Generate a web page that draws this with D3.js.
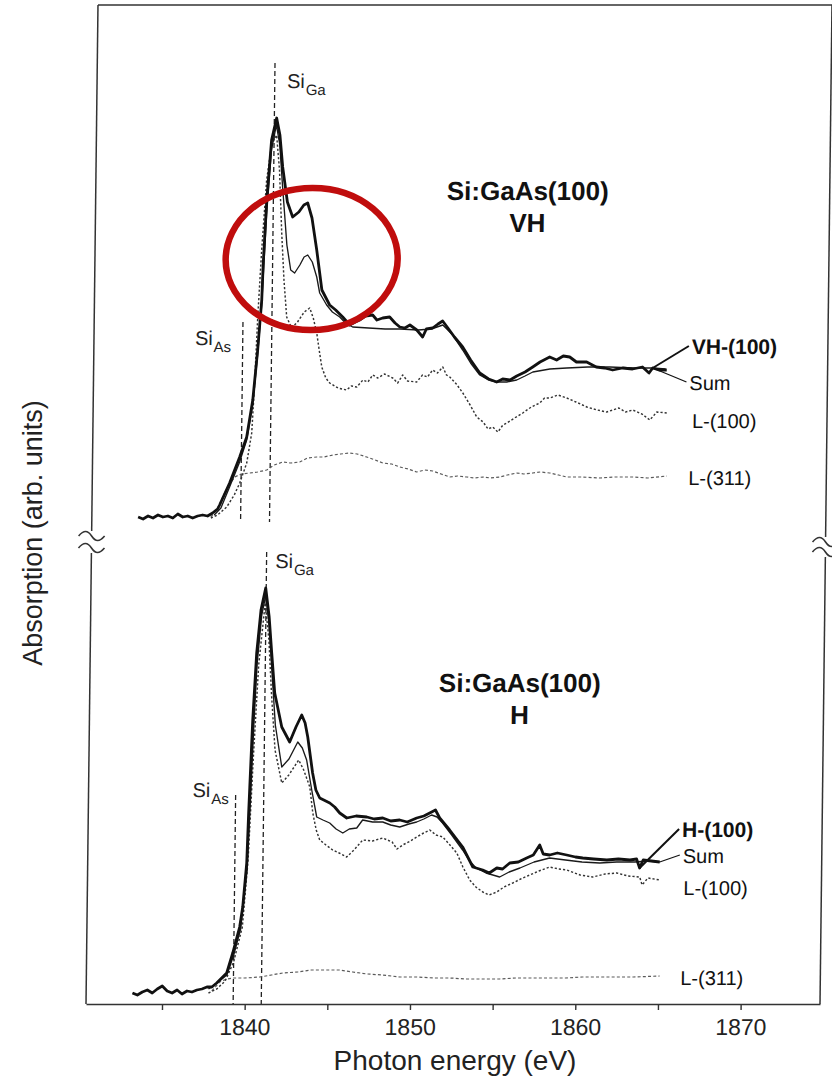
<!DOCTYPE html>
<html>
<head>
<meta charset="utf-8">
<script src="https://cdn.jsdelivr.net/npm/d3@7"></script>
<style>
  body { margin: 0; background: #fff; }
  svg { display: block; }
</style>
</head>
<body>
<svg id="chart" width="832" height="1080"></svg>
<script>
// ---- Si K-edge absorption spectra, Si:GaAs(100), energies in eV, absorption in arb. units ----

// Upper panel (VH)
const vhMeasured = [[1833.2,0.03],[1833.5,0.01],[1833.8,0.04],[1834.1,0.02],[1834.4,0.05],[1834.7,0.03],[1835.0,0.04],[1835.3,0.02],[1835.6,0.06],[1835.9,0.03],[1836.2,0.04],[1836.5,0.02],[1836.8,0.04],[1837.1,0.05],[1837.4,0.04],[1837.7,0.07],[1838.0,0.11],[1838.12,0.15],[1838.71,0.37],[1839.3,0.63],[1839.71,0.83],[1840.05,1.2],[1840.31,1.7],[1840.52,2.2],[1840.58,2.55],[1840.75,3.2],[1841.0,3.8],[1841.29,4.02],[1841.5,3.85],[1841.69,3.53],[1842.0,3.18],[1842.33,3.03],[1842.7,3.08],[1843.0,3.15],[1843.23,3.17],[1843.5,3.02],[1843.81,2.7],[1844.15,2.3],[1844.63,2.15],[1845.0,2.1],[1845.43,2.03],[1845.86,1.95],[1846.2,1.98],[1846.46,2.0],[1846.8,2.04],[1847.24,2.05],[1847.5,2.0],[1847.85,2.02],[1848.27,2.03],[1848.6,1.97],[1848.89,1.93],[1849.2,1.92],[1849.5,1.95],[1849.92,1.9],[1850.28,1.83],[1850.5,1.91],[1850.88,1.92],[1851.2,1.96],[1851.48,1.99],[1851.8,1.92],[1852.2,1.83],[1852.71,1.73],[1853.2,1.6],[1853.76,1.47],[1854.3,1.41],[1854.79,1.38],[1855.15,1.41],[1855.6,1.4],[1856.0,1.44],[1856.5,1.48],[1856.96,1.53],[1857.4,1.58],[1857.98,1.63],[1858.4,1.6],[1858.8,1.64],[1859.19,1.63],[1859.6,1.58],[1860.22,1.58],[1860.8,1.53],[1861.3,1.52],[1861.8,1.5],[1862.4,1.52],[1863.0,1.51],[1863.6,1.53],[1864.0,1.47],[1864.22,1.52],[1864.6,1.5],[1865.07,1.5]];
const vhSum = [[1837.8,0.05],[1838.2,0.12],[1838.71,0.33],[1839.3,0.58],[1839.71,0.8],[1840.05,1.15],[1840.31,1.65],[1840.52,2.15],[1840.75,3.05],[1841.0,3.7],[1841.28,3.95],[1841.5,3.75],[1841.69,3.35],[1842.0,2.75],[1842.25,2.5],[1842.49,2.47],[1842.8,2.55],[1843.05,2.63],[1843.27,2.65],[1843.55,2.58],[1843.83,2.43],[1844.02,2.27],[1844.45,2.15],[1844.8,2.08],[1845.25,2.03],[1845.6,1.97],[1846.04,1.93],[1847.0,1.92],[1848.0,1.91],[1848.89,1.91],[1850.0,1.9],[1850.8,1.91],[1851.49,1.95],[1852.1,1.85],[1852.71,1.7],[1853.2,1.57],[1853.76,1.45],[1854.3,1.4],[1854.79,1.38],[1855.4,1.38],[1856.0,1.4],[1856.5,1.44],[1856.97,1.48],[1858.0,1.51],[1859.02,1.52],[1860.3,1.53],[1861.62,1.53],[1863.0,1.52],[1864.22,1.52],[1865.0,1.51]];
const vhL100 = [[1837.6,0.02],[1838.0,0.05],[1838.55,0.13],[1839.0,0.25],[1839.32,0.37],[1839.73,0.57],[1840.01,0.87],[1840.15,1.37],[1840.29,2.03],[1840.48,2.7],[1840.73,3.4],[1841.0,3.75],[1841.3,3.85],[1841.5,3.5],[1841.68,2.87],[1841.85,2.4],[1842.04,2.03],[1842.35,1.92],[1842.7,1.98],[1843.1,2.08],[1843.43,2.12],[1843.65,2.02],[1843.87,1.87],[1844.05,1.68],[1844.2,1.53],[1844.45,1.42],[1844.69,1.37],[1845.2,1.32],[1845.72,1.3],[1846.0,1.34],[1846.33,1.33],[1846.7,1.4],[1847.0,1.38],[1847.29,1.45],[1847.6,1.42],[1848.0,1.46],[1848.5,1.42],[1848.8,1.37],[1849.1,1.45],[1849.4,1.39],[1849.95,1.38],[1850.3,1.45],[1850.6,1.43],[1850.91,1.5],[1851.2,1.47],[1851.52,1.53],[1851.75,1.45],[1851.95,1.43],[1852.35,1.36],[1852.75,1.27],[1853.2,1.15],[1853.61,1.03],[1854.0,0.98],[1854.3,0.91],[1854.58,0.93],[1854.9,0.88],[1855.2,0.95],[1855.43,0.97],[1855.9,1.02],[1856.39,1.07],[1856.9,1.13],[1857.41,1.17],[1857.7,1.22],[1858.01,1.22],[1858.5,1.25],[1859.04,1.22],[1859.6,1.18],[1860.26,1.13],[1860.9,1.1],[1861.47,1.08],[1862.2,1.12],[1862.6,1.08],[1863.04,1.1],[1863.6,1.06],[1864.08,1.0],[1864.5,1.08],[1865.1,1.07]];
const vhL311 = [[1837.6,0.03],[1837.95,0.1],[1838.5,0.3],[1839.01,0.43],[1839.4,0.46],[1839.92,0.47],[1840.4,0.48],[1840.94,0.5],[1841.4,0.55],[1841.91,0.58],[1842.4,0.57],[1842.93,0.58],[1843.4,0.62],[1843.96,0.63],[1844.4,0.63],[1844.93,0.65],[1845.4,0.66],[1845.95,0.67],[1846.4,0.66],[1846.98,0.63],[1847.5,0.6],[1847.96,0.57],[1848.5,0.56],[1848.99,0.53],[1849.5,0.51],[1850.02,0.48],[1850.5,0.5],[1850.99,0.49],[1851.5,0.46],[1852.02,0.43],[1852.5,0.44],[1853.05,0.43],[1853.5,0.42],[1854.02,0.43],[1854.5,0.42],[1855.04,0.43],[1855.5,0.45],[1856.07,0.47],[1856.5,0.46],[1857.04,0.47],[1857.5,0.48],[1858.06,0.47],[1858.6,0.45],[1859.09,0.43],[1860.0,0.43],[1861.09,0.42],[1862.0,0.43],[1863.09,0.43],[1864.0,0.42],[1865.15,0.44]];

// Lower panel (H)
const hMeasured = [[1833.2,0.02],[1833.5,0.0],[1833.8,0.03],[1834.1,0.05],[1834.4,0.02],[1834.7,0.06],[1835.0,0.09],[1835.3,0.04],[1835.6,0.02],[1835.9,0.05],[1836.2,0.01],[1836.5,0.04],[1836.8,0.03],[1837.1,0.05],[1837.4,0.06],[1837.7,0.08],[1838.0,0.08],[1838.29,0.12],[1838.89,0.22],[1839.24,0.42],[1839.64,0.68],[1839.81,0.88],[1840.02,1.32],[1840.1,1.82],[1840.15,2.08],[1840.28,2.75],[1840.47,3.42],[1840.7,3.85],[1840.97,4.07],[1841.2,3.78],[1841.38,3.42],[1841.59,3.02],[1842.04,2.68],[1842.53,2.53],[1842.9,2.68],[1843.24,2.8],[1843.45,2.72],[1843.62,2.58],[1843.94,2.22],[1844.15,2.05],[1844.39,1.97],[1845.0,1.92],[1845.3,1.88],[1845.61,1.82],[1846.04,1.77],[1846.6,1.79],[1847.25,1.78],[1847.7,1.76],[1848.22,1.77],[1848.7,1.74],[1849.24,1.75],[1849.7,1.73],[1850.27,1.77],[1850.7,1.79],[1851.17,1.83],[1851.4,1.85],[1851.66,1.77],[1852.27,1.65],[1853.07,1.48],[1853.7,1.28],[1854.3,1.25],[1854.7,1.22],[1855.15,1.27],[1855.5,1.26],[1855.93,1.32],[1856.45,1.33],[1856.95,1.37],[1857.35,1.4],[1857.73,1.5],[1857.95,1.41],[1858.34,1.4],[1858.8,1.42],[1859.37,1.4],[1859.9,1.38],[1860.34,1.37],[1861.0,1.36],[1861.8,1.35],[1862.5,1.36],[1863.2,1.35],[1863.6,1.36],[1863.79,1.27],[1864.0,1.35],[1864.5,1.34],[1865.0,1.33]];
const hSum = [[1837.8,0.06],[1838.3,0.12],[1838.9,0.2],[1839.3,0.4],[1839.7,0.66],[1840.05,1.25],[1840.2,1.95],[1840.35,2.7],[1840.5,3.3],[1840.75,3.8],[1840.98,4.0],[1841.2,3.7],[1841.4,3.25],[1841.65,2.7],[1842.07,2.28],[1842.5,2.36],[1843.02,2.53],[1843.3,2.47],[1843.57,2.35],[1843.9,2.05],[1844.22,1.78],[1844.6,1.75],[1845.01,1.72],[1845.4,1.66],[1845.81,1.62],[1846.2,1.66],[1846.65,1.67],[1847.0,1.75],[1847.6,1.73],[1848.22,1.73],[1848.7,1.7],[1849.25,1.68],[1849.8,1.71],[1850.27,1.73],[1850.7,1.76],[1851.17,1.8],[1851.5,1.78],[1851.84,1.72],[1852.4,1.6],[1853.07,1.45],[1853.5,1.34],[1853.9,1.27],[1854.5,1.22],[1855.33,1.18],[1855.9,1.23],[1856.55,1.27],[1857.4,1.33],[1858.34,1.37],[1859.3,1.35],[1860.3,1.33],[1861.37,1.32],[1862.4,1.33],[1863.5,1.33],[1864.3,1.34],[1865.0,1.33]];
const hL100 = [[1837.8,0.02],[1838.3,0.06],[1838.8,0.14],[1839.3,0.33],[1839.8,0.68],[1840.1,1.35],[1840.35,2.4],[1840.6,3.3],[1840.95,3.92],[1841.2,3.55],[1841.4,3.0],[1841.65,2.45],[1842.08,2.12],[1842.5,2.2],[1843.09,2.35],[1843.4,2.25],[1843.78,2.08],[1843.98,1.82],[1844.2,1.65],[1844.42,1.55],[1844.8,1.5],[1845.21,1.45],[1845.6,1.42],[1846.06,1.38],[1846.5,1.45],[1847.02,1.55],[1847.6,1.54],[1848.23,1.57],[1848.8,1.53],[1849.1,1.46],[1849.44,1.5],[1849.9,1.54],[1850.28,1.58],[1850.7,1.62],[1851.07,1.65],[1851.45,1.6],[1851.86,1.58],[1852.3,1.5],[1852.72,1.42],[1853.1,1.28],[1853.52,1.15],[1853.9,1.08],[1854.32,1.03],[1854.7,1.0],[1855.17,1.03],[1855.6,1.08],[1856.13,1.12],[1856.6,1.16],[1857.15,1.2],[1857.7,1.24],[1858.35,1.28],[1858.9,1.26],[1859.38,1.25],[1860.2,1.2],[1860.96,1.18],[1861.7,1.21],[1862.41,1.22],[1863.1,1.19],[1863.8,1.18],[1863.95,1.1],[1864.3,1.17],[1865.02,1.15]];
const hL311 = [[1838.0,0.04],[1838.47,0.13],[1838.9,0.16],[1839.26,0.17],[1840.0,0.17],[1840.89,0.18],[1841.6,0.2],[1842.28,0.22],[1843.2,0.23],[1844.0,0.25],[1844.94,0.25],[1845.7,0.25],[1846.51,0.23],[1847.4,0.21],[1848.3,0.2],[1849.36,0.18],[1850.4,0.18],[1851.4,0.17],[1852.39,0.17],[1853.4,0.16],[1854.4,0.16],[1855.4,0.16],[1856.4,0.17],[1857.4,0.17],[1858.43,0.17],[1859.4,0.17],[1860.4,0.18],[1861.45,0.18],[1862.5,0.18],[1863.5,0.18],[1865.08,0.19]];

// Site reference energies (eV): [Si_As, Si_Ga] for each panel
const siteEnergiesVH = [1839.4, 1841.15];
const siteEnergiesH = [1839.3, 1841.0];

// Axis ticks
const minorTicks = [1835, 1840, 1845, 1850, 1855, 1860, 1865, 1870];
const labelledTicks = [1840, 1850, 1860, 1870];

// Series labels
const seriesNamesVH = ["VH-(100)", "Sum", "L-(100)", "L-(311)"];
const seriesNamesH = ["H-(100)", "Sum", "L-(100)", "L-(311)"];
const panelTitles = [["Si:GaAs(100)", "VH"], ["Si:GaAs(100)", "H"]];

// ---------------------------------------------------------------
const FONT = '"Liberation Sans", Arial, Helvetica, sans-serif';
const svg = d3.select("#chart");

const x = d3.scaleLinear().domain([1830.4, 1874.8]).range([86, 820]);
const yTop = d3.scaleLinear().domain([0, 4]).range([520, 120]);
const yBot = d3.scaleLinear().domain([0, 4]).range([995, 595]);

const AXIS_Y = 1004, FRAME_TOP = 5;

// whole plot is slightly sheared, as on the printed page
const g = svg.append("g")
  .attr("transform", `translate(0,${AXIS_Y}) skewX(-0.6875) translate(0,${-AXIS_Y})`);

const styles = [
  { stroke: "#111", width: 2.8, dash: null },
  { stroke: "#1a1a1a", width: 1.35, dash: null },
  { stroke: "#333", width: 1.45, dash: "2.2,2" },
  { stroke: "#5a5a5a", width: 1.2, dash: "3,2.2" }
];

function drawPanel(y, seriesList, sites, names, title, layout) {
  const line = d3.line().x(d => x(d[0])).y(d => y(d[1]));
  // dashed site markers
  sites.forEach((e, i) => {
    g.append("line")
      .attr("x1", x(e)).attr("x2", x(e))
      .attr("y1", layout.siteTop[i]).attr("y2", layout.siteBottom[i])
      .attr("stroke", "#222").attr("stroke-width", 1.3)
      .attr("stroke-dasharray", "5,3");
  });
  // curves: dotted ones first, measured on top
  [3, 2, 1, 0].forEach(i => {
    const s = styles[i];
    g.append("path")
      .datum(seriesList[i])
      .attr("d", line)
      .attr("fill", "none")
      .attr("stroke", s.stroke)
      .attr("stroke-width", s.width)
      .attr("stroke-linejoin", "round")
      .attr("stroke-dasharray", s.dash);
  });
  // site labels
  ["As", "Ga"].forEach((sub, i) => {
    const t = g.append("text")
      .attr("x", layout.siteLabel[i][0]).attr("y", layout.siteLabel[i][1])
      .attr("font-family", FONT).attr("font-size", 20).attr("fill", "#222");
    t.append("tspan").text("Si");
    t.append("tspan").attr("font-size", 15).attr("dy", 7).attr("dx", 1).text(sub);
  });
  // title
  title.forEach((txt, i) => {
    g.append("text")
      .attr("x", layout.titleX).attr("y", layout.titleY + i * 32)
      .attr("text-anchor", "middle")
      .attr("font-family", FONT).attr("font-weight", "bold")
      .attr("font-size", 26).attr("fill", "#111")
      .text(txt);
  });
  // series labels
  names.forEach((nm, i) => {
    g.append("text")
      .attr("x", layout.labelX[i]).attr("y", layout.labelY[i])
      .attr("font-family", FONT)
      .attr("font-weight", i === 0 ? "bold" : "normal")
      .attr("font-size", i === 0 ? 21 : 20)
      .attr("fill", "#111")
      .text(nm);
  });
  // leader lines from the curves to their labels
  layout.leaders.forEach(ld => {
    const pts = seriesList[ld.series];
    const pt = pts.find(d => d[0] >= ld.at) || pts[pts.length - 1];
    g.append("line")
      .attr("x1", x(pt[0])).attr("y1", y(pt[1]))
      .attr("x2", layout.labelX[ld.series] - 3).attr("y2", layout.labelY[ld.series] - 8)
      .attr("stroke", "#111").attr("stroke-width", ld.series === 0 ? 2 : 1.2);
  });
}

drawPanel(yTop, [vhMeasured, vhSum, vhL100, vhL311], siteEnergiesVH, seriesNamesVH, panelTitles[0], {
  siteTop: [322, 63], siteBottom: [522, 522],
  siteLabel: [[187, 345], [276, 88]],
  titleX: 518, titleY: 200,
  labelX: [684, 682, 685, 682], labelY: [354, 390, 428, 485],
  leaders: [{ series: 0, at: 1864.2 }, { series: 1, at: 1864.22 }]
});

drawPanel(yBot, [hMeasured, hSum, hL100, hL311], siteEnergiesH, seriesNamesH, panelTitles[1], {
  siteTop: [795, 552], siteBottom: [AXIS_Y, AXIS_Y],
  siteLabel: [[190, 797], [270, 568]],
  titleX: 516, titleY: 692,
  labelX: [680, 681, 682, 680], labelY: [837, 863, 895, 985],
  leaders: [{ series: 0, at: 1863.75 }, { series: 1, at: 1865.0 }]
});

// ---- frame with axis breaks ----
const frame = g.append("g").attr("fill", "none").attr("stroke", "#333").attr("stroke-width", 1.5);
frame.append("line").attr("x1", 86).attr("x2", 820).attr("y1", FRAME_TOP).attr("y2", FRAME_TOP);
const breakLeft = [531, 553], breakRight = [537, 557];
frame.append("line").attr("x1", 86).attr("x2", 86).attr("y1", FRAME_TOP).attr("y2", breakLeft[0]);
frame.append("line").attr("x1", 86).attr("x2", 86).attr("y1", breakLeft[1]).attr("y2", AXIS_Y);
frame.append("line").attr("x1", 820).attr("x2", 820).attr("y1", FRAME_TOP).attr("y2", breakRight[0]);
frame.append("line").attr("x1", 820).attr("x2", 820).attr("y1", breakRight[1]).attr("y2", AXIS_Y);
const tilde = "M-13,0 C-8,-6 -4,-6 0,0 S8,6 13,0";
[[86, breakLeft], [820, breakRight]].forEach(([bx, b]) => {
  [b[0] + 5, b[1] - 5].forEach(by => {
    frame.append("path").attr("d", tilde).attr("transform", `translate(${bx},${by})`)
      .attr("stroke-width", 1.6);
  });
});

// ---- x axis ----
const xAxis = d3.axisBottom(x)
  .tickValues(minorTicks)
  .tickSize(6).tickSizeOuter(0).tickPadding(9)
  .tickFormat(d => labelledTicks.includes(d) ? d3.format("d")(d) : "");
const ax = g.append("g").attr("transform", `translate(0,${AXIS_Y})`).call(xAxis);
ax.select(".domain").attr("stroke", "#333").attr("stroke-width", 1.6);
ax.selectAll(".tick line").attr("stroke", "#333").attr("stroke-width", 1.4);
ax.selectAll(".tick text").attr("font-family", FONT).attr("font-size", 23).attr("fill", "#222");

// ---- axis titles ----
svg.append("text")
  .attr("x", 455).attr("y", 1070)
  .attr("text-anchor", "middle")
  .attr("font-family", FONT).attr("font-size", 28).attr("fill", "#222")
  .text("Photon energy (eV)");
svg.append("text")
  .attr("transform", "translate(42,533) rotate(-90)")
  .attr("text-anchor", "middle")
  .attr("font-family", FONT).attr("font-size", 27).attr("fill", "#222")
  .text("Absorption (arb. units)");

// ---- highlight ring around the second VH peak ----
g.append("ellipse")
  .attr("cx", x(1843.51)).attr("cy", yTop(2.61))
  .attr("rx", 86).attr("ry", 71)
  .attr("fill", "none").attr("stroke", "#c00d0d").attr("stroke-width", 6.5);
</script>
</body>
</html>
